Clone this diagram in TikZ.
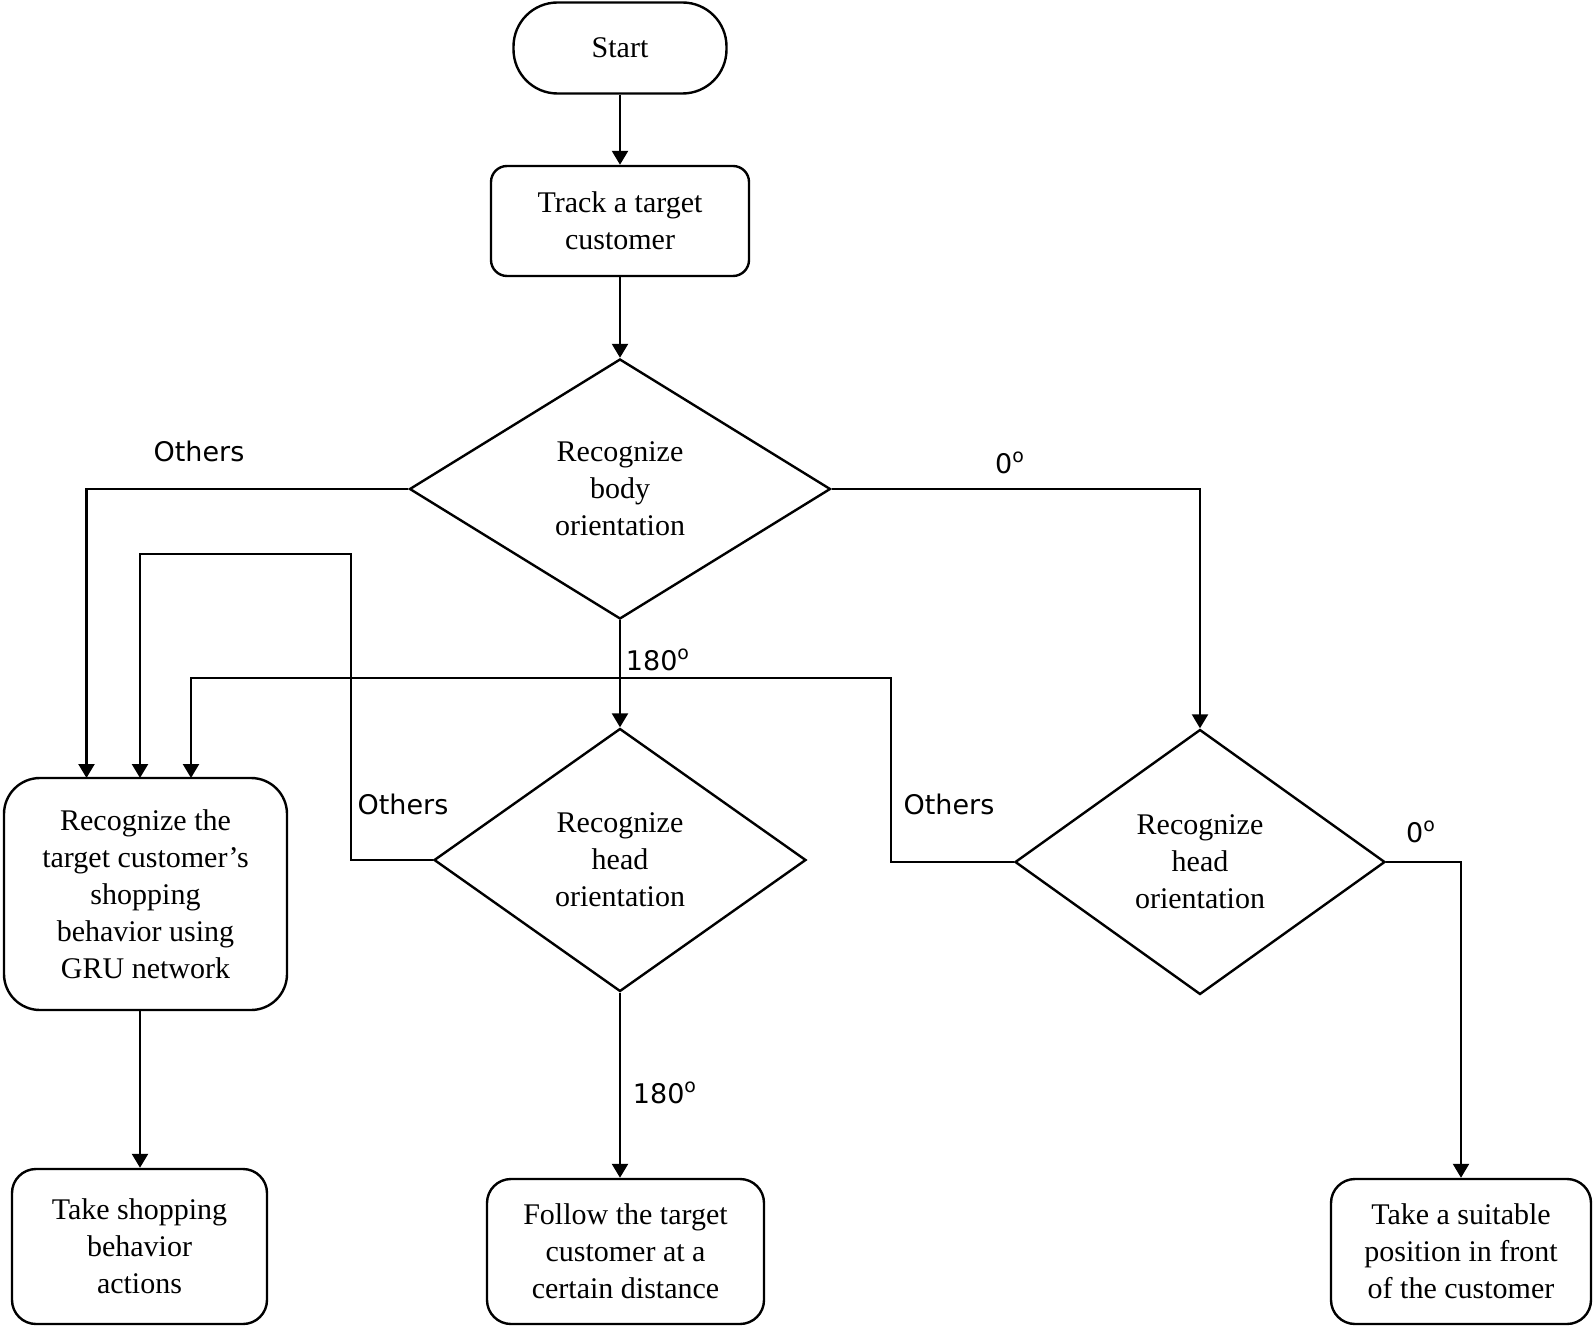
\documentclass[tikz,border=0pt]{standalone}
\usepackage{fontspec}
\setmainfont{Liberation Serif}
\newfontfamily\lblfont{DejaVu Sans}
\usetikzlibrary{shapes.geometric,arrows.meta}
\begin{document}
\begin{tikzpicture}[x=0.5pt,y=-0.5pt,
  every node/.style={font=\fontsize{15pt}{18.5pt}\selectfont, align=center, inner sep=0pt},
  box/.style={draw, line width=1.2pt, rounded corners=#1},
  box/.default=12pt,
  dia/.style={draw, line width=1.2pt, diamond},
  arr/.style={line width=1.2pt, -{Triangle[length=7pt,width=8pt]}},
  lbl/.style={font=\lblfont\fontsize{13.5pt}{16pt}\selectfont}
]
\useasboundingbox (0,0) rectangle (1595,1331);
\node[box=22pt, minimum width=106.5pt, minimum height=45.5pt] (start) at (620,48) {Start};
\node[box=8pt, minimum width=129pt, minimum height=55pt] (track) at (620,221) {Track a target\\customer};
\node[dia, minimum width=210.5pt, minimum height=130pt] (body) at (620,489) {Recognize\\body\\orientation};
\node[dia, minimum width=186pt, minimum height=131.5pt] (head1) at (620,860) {Recognize\\head\\orientation};
\node[dia, minimum width=185pt, minimum height=132.5pt] (head2) at (1200,862) {Recognize\\head\\orientation};
\node[box=18pt, minimum width=141.5pt, minimum height=116pt] (gru) at (145.5,894) {Recognize the\\target customer’s\\shopping\\behavior using\\GRU network};
\node[box, minimum width=127.5pt, minimum height=77.5pt] (shop) at (139.5,1246.5) {Take shopping\\behavior\\actions};
\node[box, minimum width=138.5pt, minimum height=72.5pt] (follow) at (625.5,1251.5) {Follow the target\\customer at a\\certain distance};
\node[box, minimum width=130pt, minimum height=72.5pt] (suit) at (1461,1251.5) {Take a suitable\\position in front\\of the customer};

\coordinate (a1) at (86.5,778);
\coordinate (a2) at (140,778);
\coordinate (a3) at (191,778);
\coordinate (c1) at (351,554);
\coordinate (c2) at (891,678);

\draw[arr] (start.south) -- (track.north);
\draw[arr] (track.south) -- (body.north);
\draw[arr] (body.west) -| (a1);
\draw[arr] (body.east) -| (head2.north);
\draw[arr] (body.south) -- (head1.north);
\draw[arr] (head1.west) -| (c1) -| (a2);
\draw[arr] (head2.west) -| (c2) -| (a3);
\draw[arr] (head1.south) -- (head1.south |- follow.north);
\draw[arr] (head2.east) -| (suit.north);
\draw[arr] (gru.south -| a2) -- (a2 |- shop.north);

\node[lbl] (l1) at (199,451) {Others};
\node[lbl] (l2) at (1010,463) {0\textsuperscript{o}};
\node[lbl] (l3) at (658,660) {180\textsuperscript{o}};
\node[lbl] (l4) at (403,804) {Others};
\node[lbl] (l5) at (949,804) {Others};
\node[lbl] (l6) at (1421,832) {0\textsuperscript{o}};
\node[lbl] (l7) at (665,1093) {180\textsuperscript{o}};
\end{tikzpicture}
\end{document}
